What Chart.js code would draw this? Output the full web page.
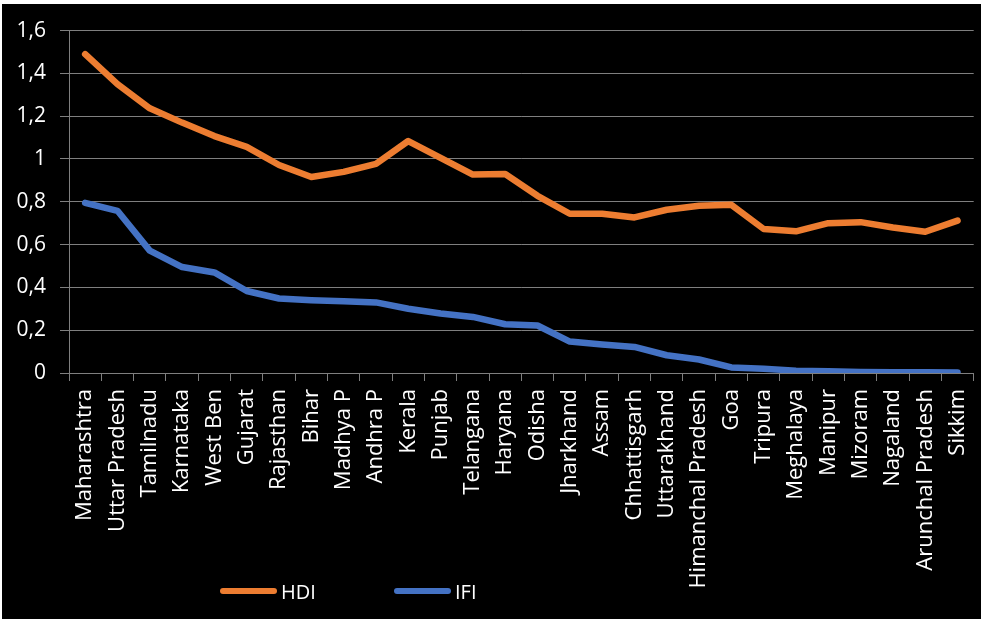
<!DOCTYPE html>
<html>
<head>
<meta charset="utf-8">
<script src="https://cdn.jsdelivr.net/npm/chart.js@4/dist/chart.umd.min.js"></script>
<style>
  html, body { margin: 0; padding: 0; background: #fff; overflow: hidden; width: 981px; height: 619px; }
  #cadre { position: absolute; left: 2px; top: 4px; width: 990px; height: 615px; background: #000; }
  #cadre canvas { position: absolute; left: 0; top: 0; }
  #legende { position: absolute; left: 218px; top: 575px; display: flex; font-family: "Open Sans", sans-serif; font-size: 20px; color: #fff; }
  #legende .item { width: 174px; display: flex; align-items: center; height: 24px; }
  #legende .trait { width: 57px; height: 6px; border-radius: 3px; margin-right: 4px; }
</style>
</head>
<body>
<div id="cadre">
  <canvas id="graphe" width="990" height="615"></canvas>
  <div id="legende"></div>
</div>
<script>
const etats = ["Maharashtra", "Uttar Pradesh", "Tamilnadu", "Karnataka", "West Ben", "Gujarat", "Rajasthan",
  "Bihar", "Madhya P", "Andhra P", "Kerala", "Punjab", "Telangana", "Haryana", "Odisha", "Jharkhand", "Assam",
  "Chhattisgarh", "Uttarakhand", "Himanchal Pradesh", "Goa", "Tripura", "Meghalaya", "Manipur", "Mizoram",
  "Nagaland", "Arunchal Pradesh", "Sikkim"];

const hdi = [1.49, 1.35, 1.237, 1.17, 1.107, 1.057, 0.972, 0.916, 0.94, 0.977, 1.084, 1.005, 0.927, 0.93,
  0.828, 0.744, 0.744, 0.727, 0.763, 0.782, 0.786, 0.673, 0.662, 0.70, 0.705, 0.68, 0.66, 0.712];

const ifi = [0.795, 0.758, 0.572, 0.495, 0.47, 0.383, 0.348, 0.34, 0.335, 0.33, 0.30, 0.278, 0.262, 0.228,
  0.222, 0.147, 0.133, 0.122, 0.083, 0.063, 0.026, 0.02, 0.011, 0.008, 0.005, 0.004, 0.003, 0.002];

const series = ["HDI", "IFI"];
const couleurs = ["#ED7D31", "#4472C4"];
const gris = "#7f7f7f";

const virgule = (v) => String(Number(v.toFixed(1))).replace(".", ",");

const monChart = new Chart(document.getElementById("graphe"), {
  type: "line",
  data: {
    labels: etats,
    datasets: [
      { label: series[0], data: hdi, borderColor: couleurs[0], backgroundColor: couleurs[0] },
      { label: series[1], data: ifi, borderColor: couleurs[1], backgroundColor: couleurs[1] }
    ]
  },
  options: {
    responsive: false,
    animation: false,
    layout: { padding: { top: 25, right: 3, left: 0, bottom: 0 } },
    elements: {
      line: { borderWidth: 6.5, tension: 0, borderCapStyle: "round", borderJoinStyle: "round" },
      point: { radius: 0 }
    },
    plugins: { legend: { display: false }, tooltip: { enabled: false } },
    scales: {
      x: {
        offset: true,
        grid: { offset: true, drawOnChartArea: false, drawTicks: true, tickLength: 8, color: gris },
        border: { color: gris },
        ticks: {
          color: "#fff", autoSkip: false, minRotation: 90, maxRotation: 90, padding: 8,
          font: { family: "Open Sans", size: 22 }
        },
        afterFit: (s) => { s.height = 246; }
      },
      y: {
        min: 0, max: 1.6,
        grid: { color: gris, tickLength: 9 },
        border: { color: gris },
        ticks: {
          stepSize: 0.2, color: "#fff", padding: 14,
          font: { family: "Open Sans", size: 21 },
          callback: (v) => virgule(v)
        },
        afterFit: (s) => { s.width = 67; }
      }
    }
  }
});

// legende en html, construite depuis les datasets
const legende = document.getElementById("legende");
monChart.data.datasets.forEach((ds) => {
  const item = document.createElement("div");
  item.className = "item";
  const trait = document.createElement("span");
  trait.className = "trait";
  trait.style.background = ds.borderColor;
  const texte = document.createElement("span");
  texte.textContent = ds.label;
  item.appendChild(trait);
  item.appendChild(texte);
  legende.appendChild(item);
});
</script>
</body>
</html>
